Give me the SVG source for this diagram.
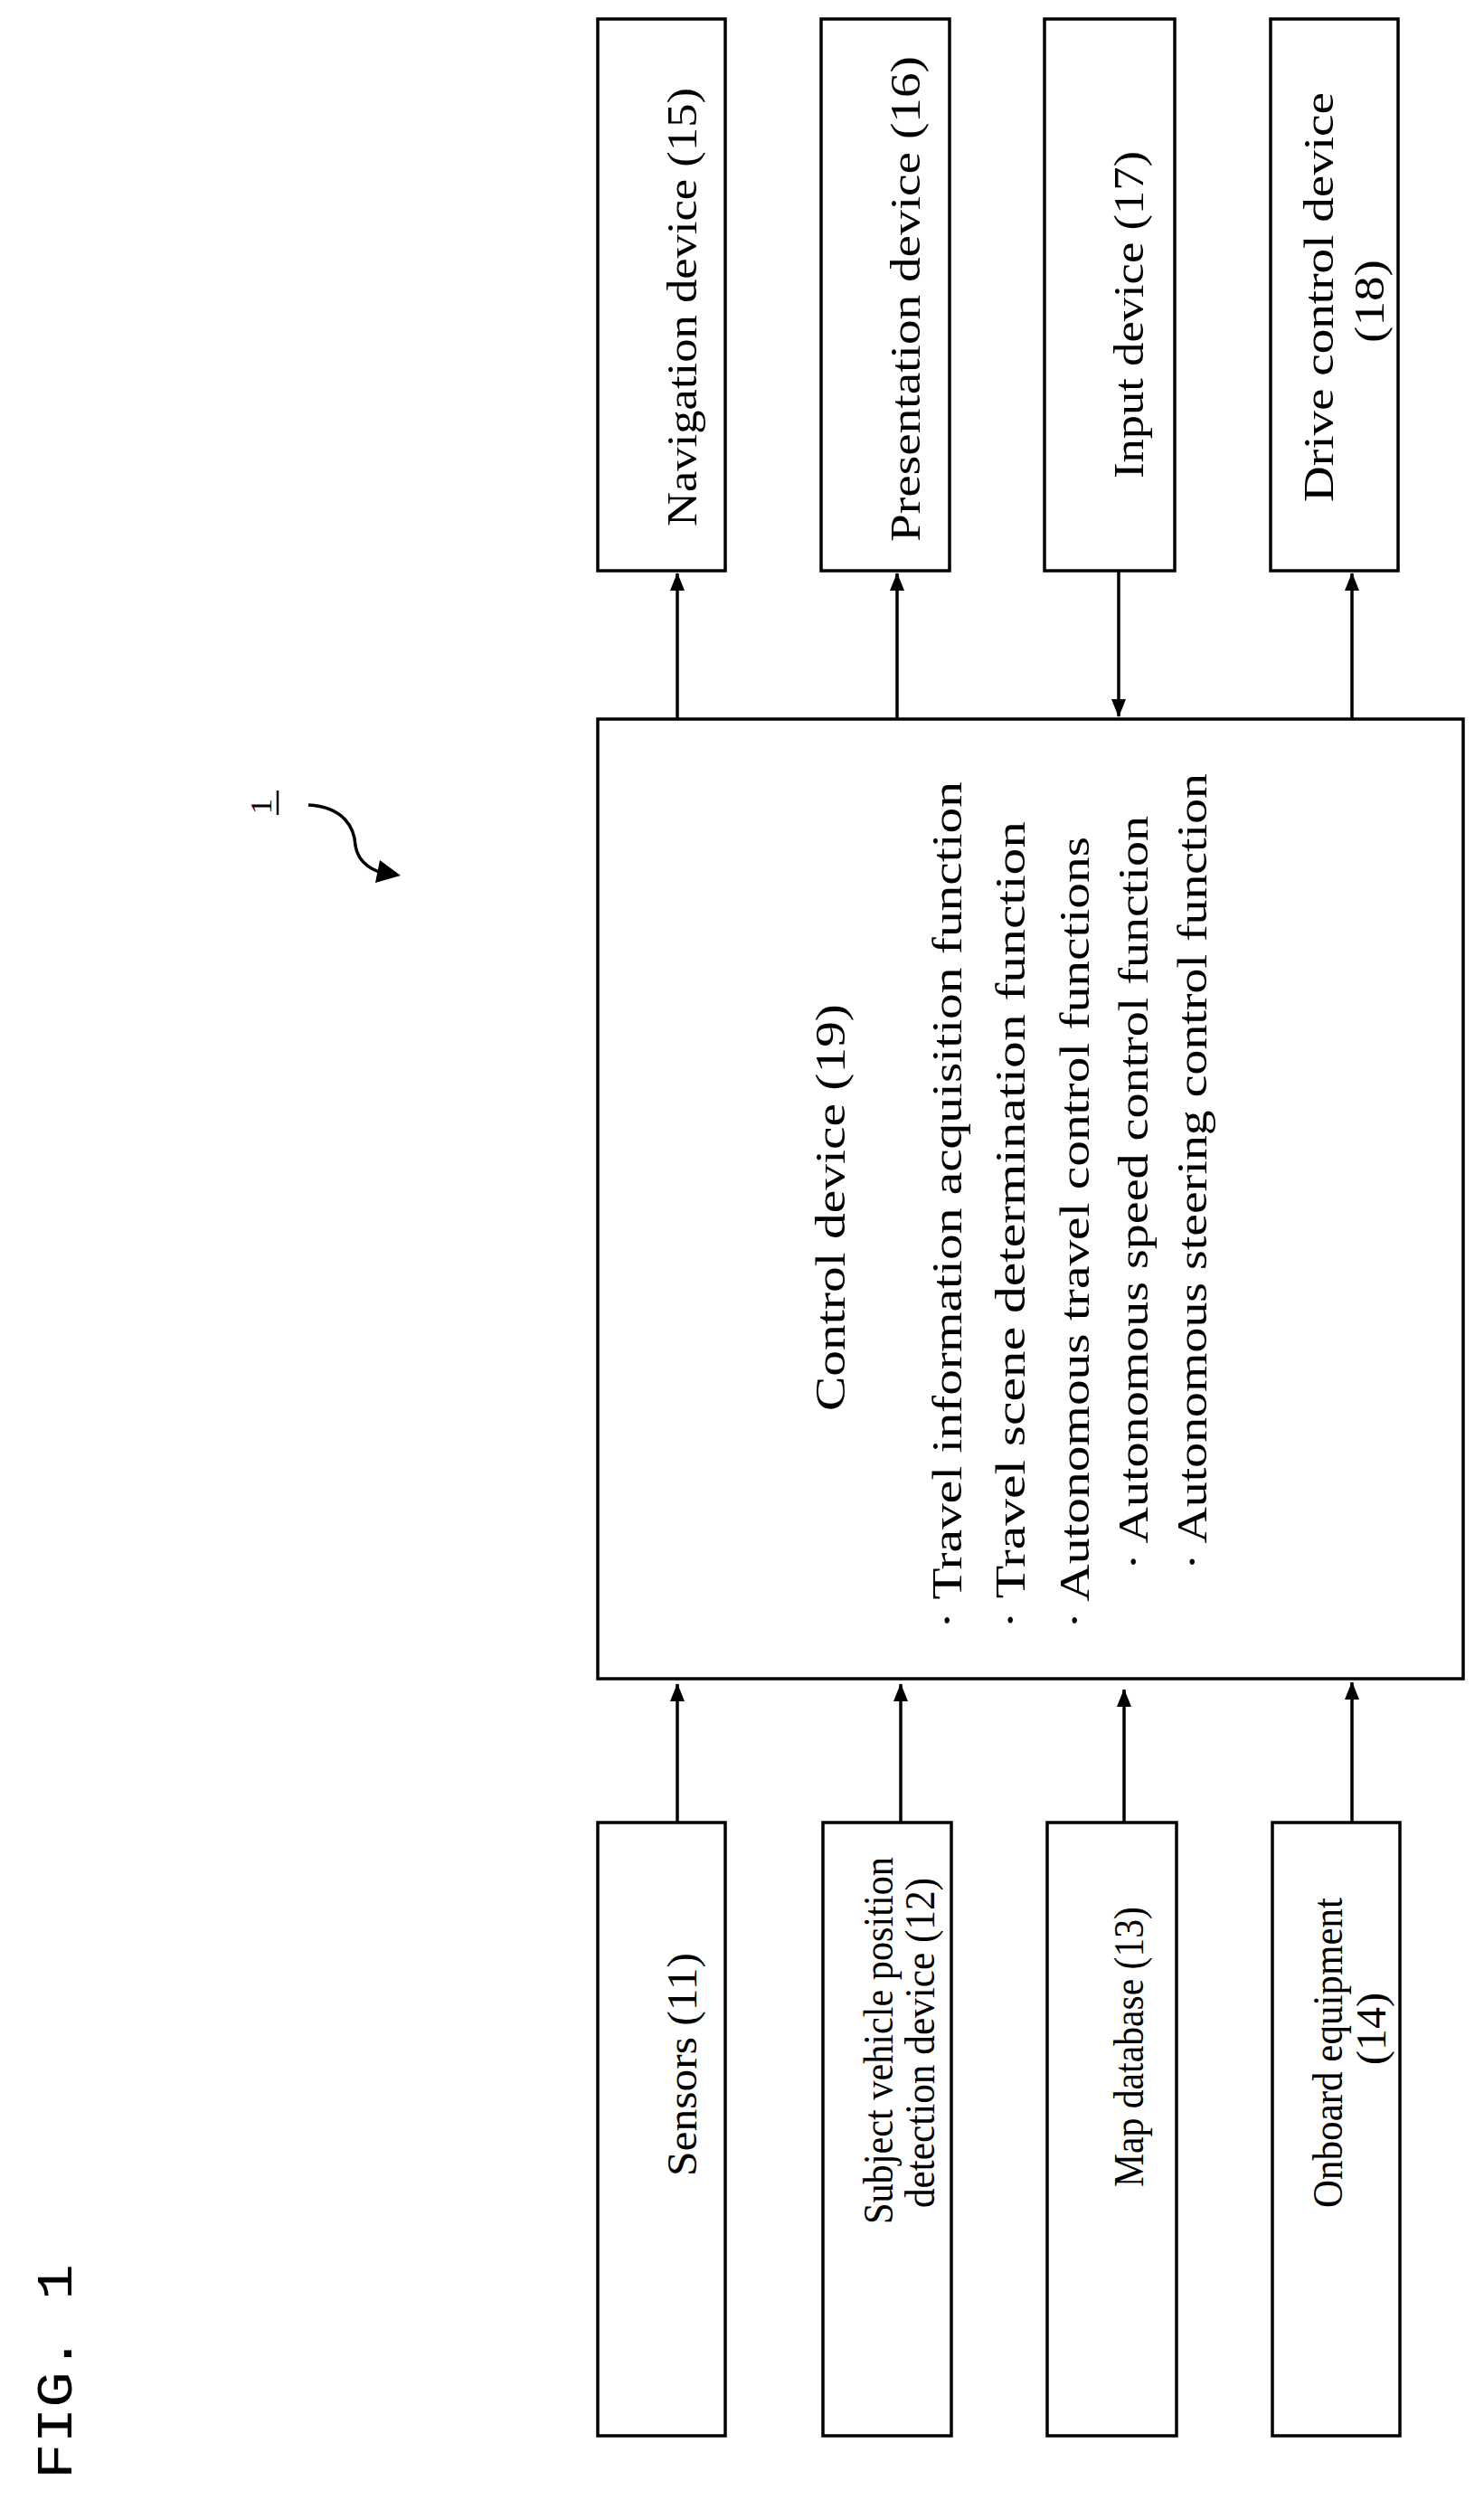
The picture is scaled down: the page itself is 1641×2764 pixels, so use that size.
<svg xmlns="http://www.w3.org/2000/svg" width="1641" height="2764" viewBox="0 0 1641 2764">
<style>
.box{fill:#fff;stroke:#000;stroke-width:3.5}
.t{font-family:"Liberation Serif","Times New Roman",serif;font-size:46px;fill:#000}
.c{font-family:"Liberation Serif","Times New Roman",serif;font-size:46px;fill:#000}
.ln{stroke:#000;stroke-width:3.5;fill:none}
</style>
<defs>
<marker id="ah" viewBox="0 0 20 16" refX="19" refY="8" markerWidth="20" markerHeight="16" markerUnits="userSpaceOnUse" orient="auto"><path d="M0,0 L20,8 L0,16 z" fill="#000"/></marker>
</defs>
<rect width="1641" height="2764" fill="#fff"/>
<g id="fig"><text transform="translate(79,2741) rotate(-90)" font-family="Liberation Mono,monospace" font-size="56" textLength="238" lengthAdjust="spacingAndGlyphs">FIG. 1</text></g>
<g id="ref1">
<text transform="translate(300,900) rotate(-90)" font-family="Liberation Serif,serif" font-size="34">1</text>
<line x1="307" y1="874" x2="307" y2="901" stroke="#000" stroke-width="2.5"/>
<path d="M341,890 C380,892 392,915 393,935 C396,955 415,965 430,966" class="ln" stroke-width="4"/>
<path d="M420,951 L443,968 L415,976 z" fill="#000"/>
</g>
<g id="n15"><rect class="box" x="661" y="21" width="141" height="610"/><text class="t" transform="translate(770,582) rotate(-90)" textLength="485" lengthAdjust="spacingAndGlyphs">Navigation device (15)</text></g>
<g id="n16"><rect class="box" x="908" y="21" width="142" height="610"/><text class="t" transform="translate(1017,599) rotate(-90)" textLength="537" lengthAdjust="spacingAndGlyphs">Presentation device (16)</text></g>
<g id="n17"><rect class="box" x="1155" y="21" width="144" height="610"/><text class="t" transform="translate(1264,529) rotate(-90)" textLength="362" lengthAdjust="spacingAndGlyphs">Input device (17)</text></g>
<g id="n18"><rect class="box" x="1405" y="21" width="141" height="610"/><text class="t" transform="translate(1474,555) rotate(-90)" textLength="453" lengthAdjust="spacingAndGlyphs">Drive control device</text><text class="t" transform="translate(1530,379) rotate(-90)" textLength="92" lengthAdjust="spacingAndGlyphs">(18)</text></g>
<g id="n19"><rect class="box" x="661" y="795" width="957" height="1061"/>
<text class="c" transform="translate(934,1560) rotate(-90)" textLength="450" lengthAdjust="spacingAndGlyphs">Control device (19)</text>
<text class="c" transform="translate(1063,1801) rotate(-90)" textLength="937" lengthAdjust="spacingAndGlyphs">· Travel information acquisition function</text>
<text class="c" transform="translate(1133,1801) rotate(-90)" textLength="893" lengthAdjust="spacingAndGlyphs">· Travel scene determination function</text>
<text class="c" transform="translate(1204,1801) rotate(-90)" textLength="876" lengthAdjust="spacingAndGlyphs">· Autonomous travel control functions</text>
<text class="c" transform="translate(1269,1736) rotate(-90)" textLength="834" lengthAdjust="spacingAndGlyphs">· Autonomous speed control function</text>
<text class="c" transform="translate(1334,1736) rotate(-90)" textLength="881" lengthAdjust="spacingAndGlyphs">· Autonomous steering control function</text>
</g>
<g id="n11"><rect class="box" x="661" y="2015" width="141" height="678"/><text class="t" transform="translate(770,2406) rotate(-90)" textLength="247" lengthAdjust="spacingAndGlyphs">Sensors (11)</text></g>
<g id="n12"><rect class="box" x="910" y="2015" width="142" height="678"/><text class="t" transform="translate(987,2459) rotate(-90)" textLength="406" lengthAdjust="spacingAndGlyphs">Subject vehicle position</text><text class="t" transform="translate(1033,2441) rotate(-90)" textLength="365" lengthAdjust="spacingAndGlyphs">detection device (12)</text></g>
<g id="n13"><rect class="box" x="1158" y="2015" width="143" height="678"/><text class="t" transform="translate(1264,2418) rotate(-90)" textLength="310" lengthAdjust="spacingAndGlyphs">Map database (13)</text></g>
<g id="n14"><rect class="box" x="1407" y="2015" width="141" height="678"/><text class="t" transform="translate(1484,2441) rotate(-90)" textLength="343" lengthAdjust="spacingAndGlyphs">Onboard equipment</text><text class="t" transform="translate(1532,2283) rotate(-90)" textLength="80" lengthAdjust="spacingAndGlyphs">(14)</text></g>
<g id="connectors">
<line class="ln" x1="749" y1="795" x2="749" y2="634" marker-end="url(#ah)"/>
<line class="ln" x1="992" y1="795" x2="992" y2="634" marker-end="url(#ah)"/>
<line class="ln" x1="1237" y1="631" x2="1237" y2="792" marker-end="url(#ah)"/>
<line class="ln" x1="1495" y1="795" x2="1495" y2="634" marker-end="url(#ah)"/>
<line class="ln" x1="749" y1="2015" x2="749" y2="1862" marker-end="url(#ah)"/>
<line class="ln" x1="996" y1="2015" x2="996" y2="1862" marker-end="url(#ah)"/>
<line class="ln" x1="1243" y1="2015" x2="1243" y2="1868" marker-end="url(#ah)"/>
<line class="ln" x1="1495" y1="2015" x2="1495" y2="1860" marker-end="url(#ah)"/>
</g>
</svg>
